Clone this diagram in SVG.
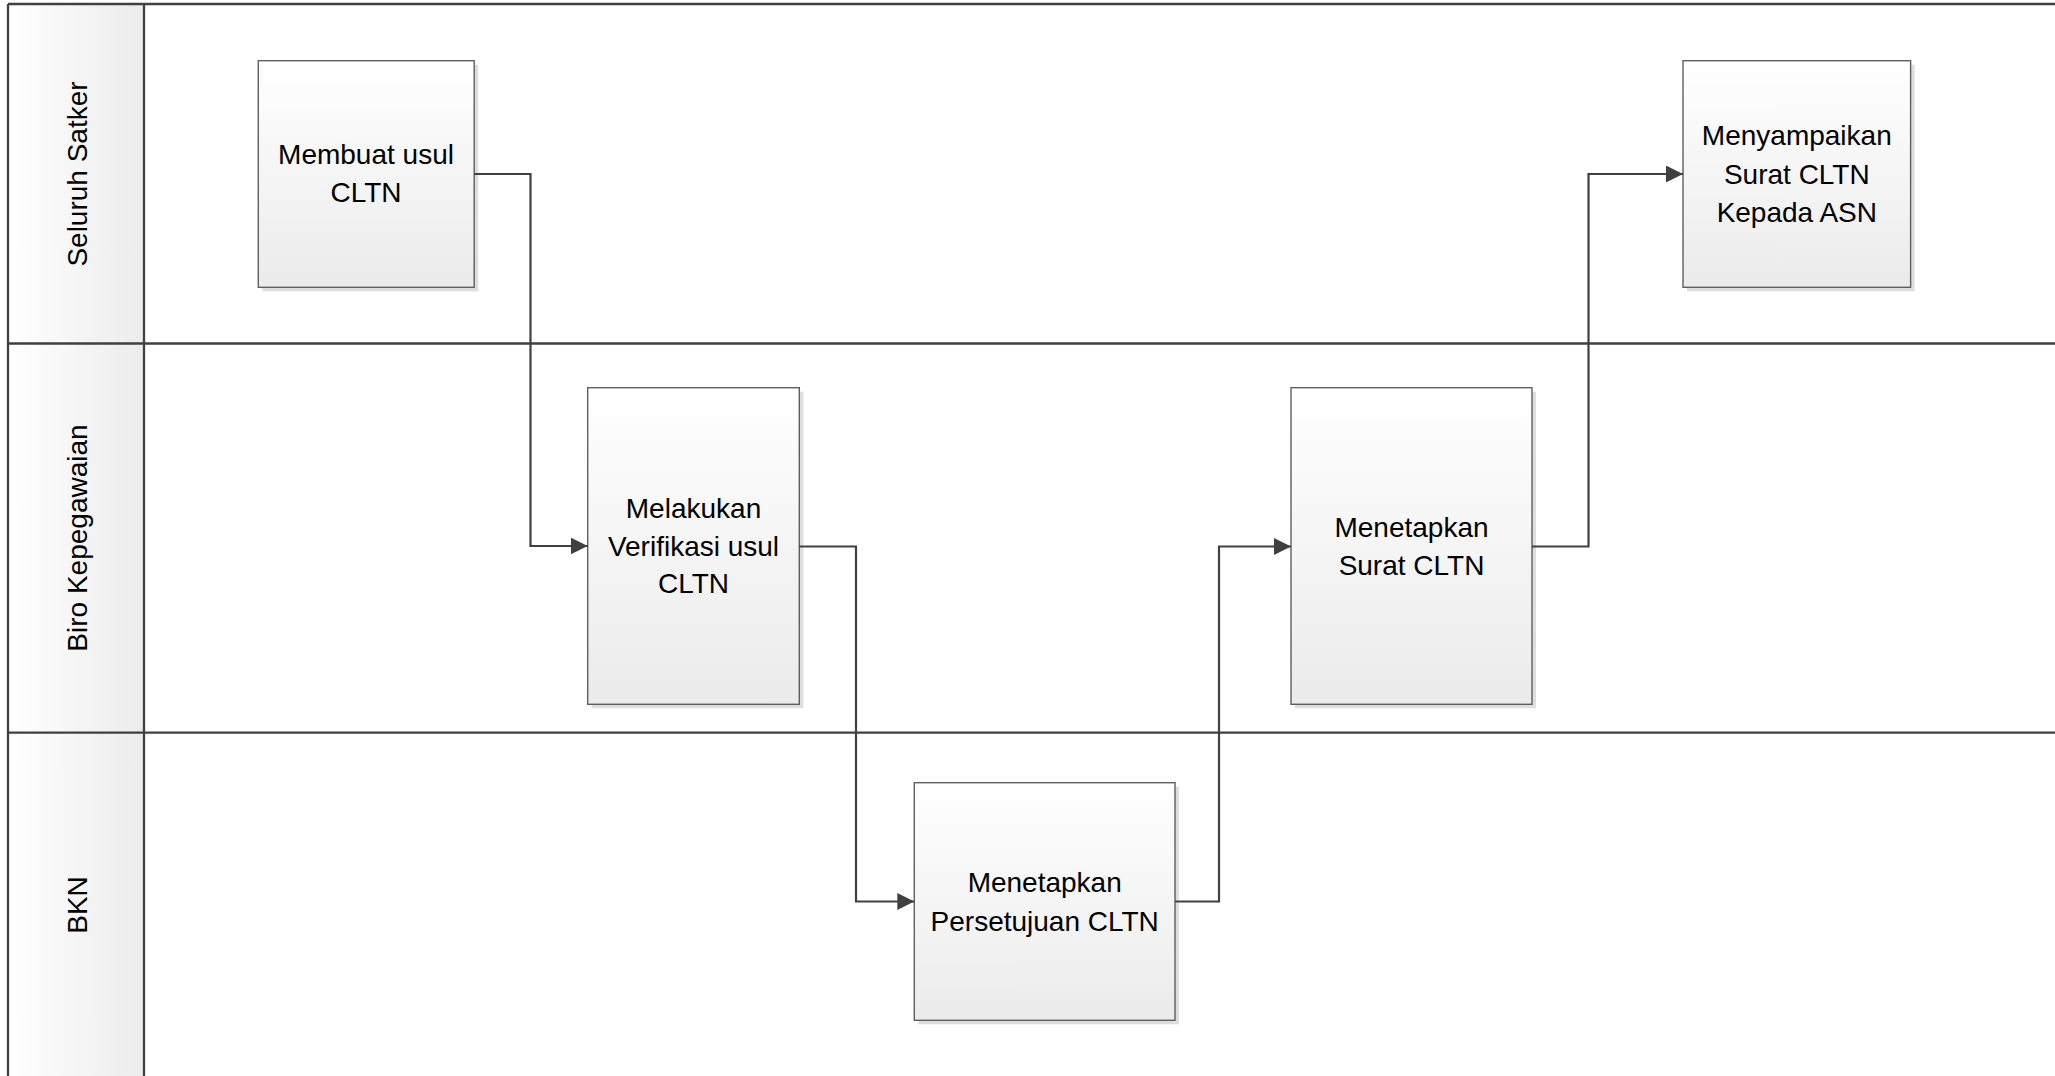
<svg xmlns="http://www.w3.org/2000/svg" width="2055" height="1076" viewBox="0 0 2055 1076">
<defs>
<linearGradient id="hdr" x1="0" y1="0" x2="1" y2="0">
<stop offset="0" stop-color="#ffffff"/>
<stop offset="1" stop-color="#ececec"/>
</linearGradient>
<linearGradient id="box" x1="0" y1="0" x2="0" y2="1">
<stop offset="0" stop-color="#ffffff"/>
<stop offset="1" stop-color="#ebebeb"/>
</linearGradient>
<marker id="arr" markerUnits="userSpaceOnUse" markerWidth="18" markerHeight="18" refX="17" refY="8.5" orient="auto">
<path d="M0,0 L17,8.5 L0,17 z" fill="#404040"/>
</marker>
<style>
.lane{fill:none;stroke:#404040;stroke-width:2.3}
.hdr{fill:url(#hdr);stroke:none}
.shadow{fill:#dedede;stroke:none}
.box{fill:url(#box);stroke:#5f5f5f;stroke-width:1.4}
.t{font-family:"Liberation Sans",Arial,sans-serif;font-size:28px;fill:#000;text-anchor:middle}
.conn{fill:none;stroke:#404040;stroke-width:2.2;marker-end:url(#arr)}
</style>
</defs>
<rect x="0" y="0" width="2055" height="1076" fill="#ffffff"/>
<g id="lanes">
<g id="lane-seluruh-satker">
<rect class="hdr" x="8" y="4" width="136" height="339.5"/>
<text class="t" transform="translate(87,174) rotate(-90)">Seluruh Satker</text>
</g>
<g id="lane-biro-kepegawaian">
<rect class="hdr" x="8" y="343.5" width="136" height="389.2"/>
<text class="t" transform="translate(87,538) rotate(-90)">Biro Kepegawaian</text>
</g>
<g id="lane-bkn">
<rect class="hdr" x="8" y="732.7" width="136" height="345"/>
<text class="t" transform="translate(87,905) rotate(-90)">BKN</text>
</g>
<path class="lane" d="M8,4 H2055 M8,343.5 H2055 M8,732.7 H2055 M8,4 V1076 M144,4 V1076"/>
</g>
<g id="node-membuat-usul">
<rect class="shadow" x="262.3" y="64.7" width="215.9" height="226.6"/>
<rect class="box" x="258.3" y="60.7" width="215.9" height="226.6"/>
<text class="t" x="366" y="164">Membuat usul</text>
<text class="t" x="366" y="202">CLTN</text>
</g>
<g id="node-verifikasi">
<rect class="shadow" x="591.7" y="391.7" width="211.6" height="316.6"/>
<rect class="box" x="587.7" y="387.7" width="211.6" height="316.6"/>
<text class="t" x="693.5" y="518">Melakukan</text>
<text class="t" x="693.5" y="555.5">Verifikasi usul</text>
<text class="t" x="693.5" y="593">CLTN</text>
</g>
<g id="node-persetujuan">
<rect class="shadow" x="918.3" y="786.7" width="260.7" height="237.6"/>
<rect class="box" x="914.3" y="782.7" width="260.7" height="237.6"/>
<text class="t" x="1044.7" y="892">Menetapkan</text>
<text class="t" x="1044.7" y="930.5">Persetujuan CLTN</text>
</g>
<g id="node-surat">
<rect class="shadow" x="1295" y="391.7" width="241" height="316.6"/>
<rect class="box" x="1291" y="387.7" width="241" height="316.6"/>
<text class="t" x="1411.5" y="536.5">Menetapkan</text>
<text class="t" x="1411.5" y="575">Surat CLTN</text>
</g>
<g id="node-menyampaikan">
<rect class="shadow" x="1687" y="64.7" width="227.6" height="226.6"/>
<rect class="box" x="1683" y="60.7" width="227.6" height="226.6"/>
<text class="t" x="1796.8" y="145">Menyampaikan</text>
<text class="t" x="1796.8" y="183.5">Surat CLTN</text>
<text class="t" x="1796.8" y="222">Kepada ASN</text>
</g>
<g id="connectors">
<path class="conn" d="M474.2,174 H530.5 V546 H587.7"/>
<path class="conn" d="M799.3,546.5 H856 V901.5 H914.3"/>
<path class="conn" d="M1175,901.5 H1219 V546.5 H1291"/>
<path class="conn" d="M1532,546.5 H1588.5 V174 H1683"/>
</g>
</svg>
